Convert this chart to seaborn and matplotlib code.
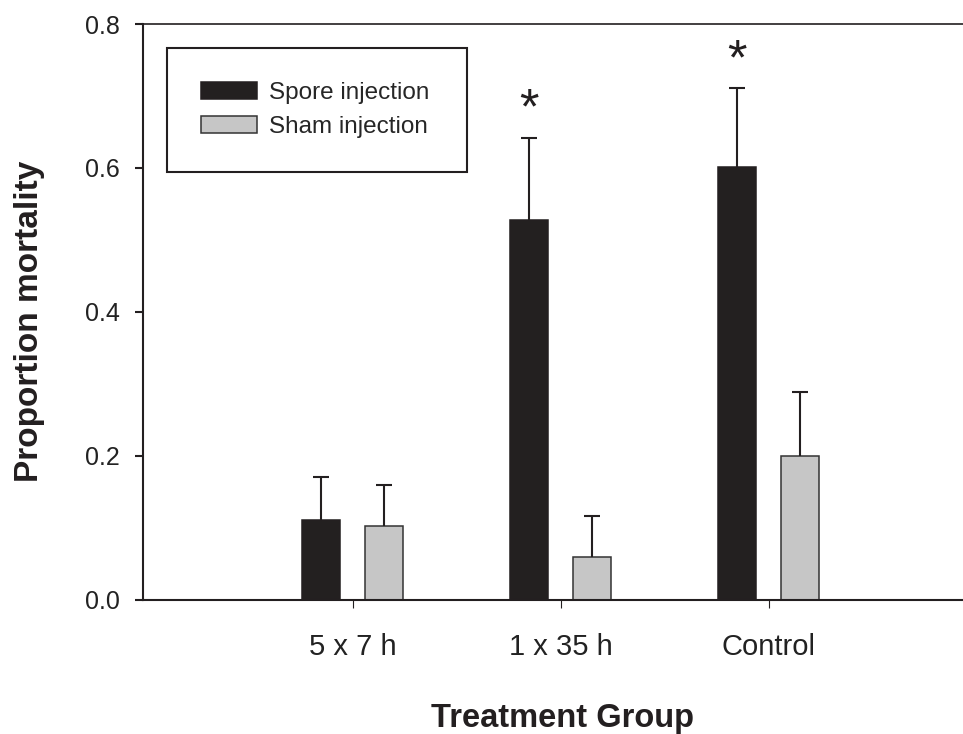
import pandas as pd
import matplotlib
matplotlib.use("Agg")
import matplotlib.pyplot as plt
import seaborn as sns

# values
groups = ["5 x 7 h", "1 x 35 h", "Control"]
treatments = ["Spore injection", "Sham injection"]
spore = [0.111, 0.528, 0.602]
spore_err = [0.060, 0.114, 0.109]
sham = [0.103, 0.059, 0.200]
sham_err = [0.057, 0.057, 0.089]
significant = [False, True, True]

sns.set_style("ticks")
plt.rcParams['font.family'] = ['Liberation Sans', 'DejaVu Sans']

df = pd.DataFrame({
    'Group': groups * 2,
    'Treatment': [treatments[0]] * 3 + [treatments[1]] * 3,
    'Mortality': spore + sham,
})

ink = '#231f20'
fig = plt.figure(figsize=(9.63, 7.34), dpi=100)
ax = fig.add_axes([0.1485, 0.1826, 0.8515, 0.7847])

sns.barplot(data=df, x='Group', y='Mortality', hue='Treatment', order=groups,
            hue_order=treatments, palette=[ink, '#c6c6c6'], width=0.608, gap=0.4,
            errorbar=None, legend=False, edgecolor=ink, linewidth=1.1, ax=ax)

for p in ax.containers[1]:
    p.set_edgecolor('#333333')

ax.legend(ax.containers[:2], treatments, loc='upper left',
          bbox_to_anchor=(0.0293, 0.5, 0.366, 0.458), mode='expand',
          borderaxespad=0, fontsize=17.5, frameon=True, fancybox=False,
          edgecolor=ink, framealpha=1, handlelength=2.3, handleheight=0.7,
          handletextpad=0.5, labelspacing=0.5, borderpad=1.4)
ax.get_legend().get_frame().set_linewidth(1.5)

# upper-only error bars and significance stars
for cont, err in zip(ax.containers[:2], [spore_err, sham_err]):
    xs = [p.get_x() + p.get_width() / 2 for p in cont]
    ys = [p.get_height() for p in cont]
    eb = ax.errorbar(xs, ys, yerr=[[0] * len(err), err], fmt='none', ecolor=ink,
                     elinewidth=1.5, capsize=6, capthick=1.5)
    eb[1][0].set_visible(False)
    if cont is ax.containers[0]:
        for x, y, e, s in zip(xs, ys, err, significant):
            if s:
                ax.annotate('*', (x, y + e), xytext=(0, 3), textcoords='offset points',
                            ha='center', va='bottom', fontsize=36, color=ink)

ax.set_xlim(-1.008, 2.934)
ax.set_ylim(0, 0.8)
ax.set_yticks([0.0, 0.2, 0.4, 0.6, 0.8])
ax.set_yticklabels(['0.0', '0.2', '0.4', '0.6', '0.8'])

for side in ['left', 'bottom', 'top']:
    ax.spines[side].set_color(ink)
    ax.spines[side].set_linewidth(1.5)
ax.spines['top'].set_linewidth(1.2)
ax.spines['right'].set_visible(False)

ax.tick_params(axis='y', direction='out', length=5.5, width=1.5, color=ink,
               labelsize=18, pad=11, labelcolor='#222222')
ax.tick_params(axis='x', direction='out', length=6, width=0.8, color=ink,
               labelsize=21, pad=18, labelcolor='#222222')

ax.set_xlabel('Treatment Group', fontsize=23.5, fontweight='bold', color=ink, labelpad=30)
ax.set_ylabel('Proportion mortality', fontsize=24, fontweight='bold', color=ink, labelpad=29)
ax.xaxis.label.set_x(0.512)
ax.yaxis.label.set_y(0.484)

fig.savefig('out.png', dpi=100)
